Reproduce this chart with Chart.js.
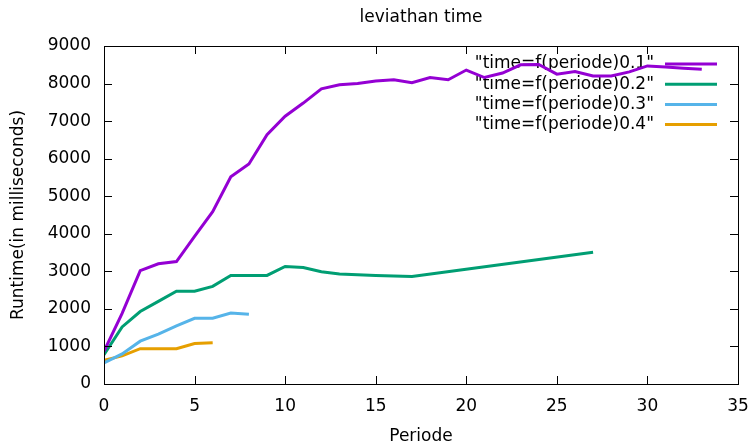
<!DOCTYPE html>
<html>
<head>
<meta charset="utf-8">
<script src="https://cdn.jsdelivr.net/npm/chart.js@4"></script>
<style>
  html, body { margin: 0; padding: 0; background: #fff; }
  #wrap { width: 753px; height: 447px; }
</style>
</head>
<body>
<div id="wrap"><canvas id="timeChart" width="753" height="447"></canvas></div>
<script>
const seriesLabels = ['"time=f(periode)0.1"', '"time=f(periode)0.2"', '"time=f(periode)0.3"', '"time=f(periode)0.4"'];
const seriesColors = ['#9400d3', '#009e73', '#56b4e9', '#e69f00'];

const periods1 = [0, 1, 2, 3, 4, 5, 6, 7, 8, 9, 10, 11, 12, 13, 14, 15, 16, 17, 18, 19, 20, 21, 22, 23, 24, 25, 26, 27, 28, 29, 30, 31, 32, 33];
const runtime1 = [870, 1880, 3020, 3200, 3260, 3930, 4590, 5520, 5860, 6640, 7130, 7480, 7860, 7970, 8000, 8070, 8100, 8020, 8160, 8100, 8360, 8160, 8280, 8500, 8510, 8250, 8320, 8200, 8200, 8310, 8470, 8440, 8410, 8380];

const periods2 = [0, 1, 2, 3, 4, 5, 6, 7, 8, 9, 10, 11, 12, 13, 14, 15, 16, 17, 27];
const runtime2 = [780, 1520, 1930, 2200, 2470, 2470, 2600, 2890, 2890, 2890, 3130, 3100, 2990, 2930, 2910, 2890, 2875, 2860, 3510];

const periods3 = [0, 1, 2, 3, 4, 5, 6, 7, 8];
const runtime3 = [560, 800, 1140, 1330, 1550, 1750, 1750, 1890, 1860];

const periods4 = [0, 1, 2, 3, 4, 5, 6];
const runtime4 = [630, 750, 940, 940, 940, 1080, 1100];

const FONT = 'DejaVu Sans';

function toPoints(xs, ys) {
    return xs.map((x, i) => ({ x: x, y: ys[i] }));
}

function makeDataset(i, xs, ys) {
    return {
        label: seriesLabels[i],
        data: toPoints(xs, ys),
        borderColor: seriesColors[i],
        backgroundColor: seriesColors[i],
        borderWidth: 3,
        pointRadius: 0,
        tension: 0,
        fill: false
    };
}

// gnuplot-like frame with inward ticks on all four sides
const framePlugin = {
    id: 'frame',
    afterDraw(chart) {
        const ctx = chart.ctx;
        const a = chart.chartArea;
        const xs = chart.scales.x, ys = chart.scales.y;
        const tl = 8;
        ctx.save();
        ctx.strokeStyle = '#000';
        ctx.lineWidth = 1;
        ctx.beginPath();
        xs.ticks.forEach(t => {
            const px = Math.round(xs.getPixelForValue(t.value)) + 0.5;
            ctx.moveTo(px, a.bottom); ctx.lineTo(px, a.bottom - tl);
            ctx.moveTo(px, a.top); ctx.lineTo(px, a.top + tl);
        });
        ys.ticks.forEach(t => {
            const py = Math.round(ys.getPixelForValue(t.value)) + 0.5;
            ctx.moveTo(a.left, py); ctx.lineTo(a.left + tl, py);
            ctx.moveTo(a.right, py); ctx.lineTo(a.right - tl, py);
        });
        ctx.stroke();
        ctx.strokeRect(Math.round(a.left) + 0.5, Math.round(a.top) + 0.5,
            Math.round(a.right - a.left), Math.round(a.bottom - a.top));
        ctx.restore();
    }
};

// legend inside the plot, text right-aligned, sample line on the right
const keyPlugin = {
    id: 'key',
    beforeDatasetsDraw(chart) {
        const ctx = chart.ctx;
        const textRight = 654, lineStart = 665, lineEnd = 717;
        const top = 64, step = 20.2;
        ctx.save();
        ctx.font = '17px "' + FONT + '"';
        ctx.textAlign = 'right';
        ctx.textBaseline = 'middle';
        chart.data.datasets.forEach((ds, i) => {
            const y = top + i * step;
            ctx.fillStyle = '#000';
            ctx.fillText(ds.label, textRight, y);
            ctx.strokeStyle = ds.borderColor;
            ctx.lineWidth = 3;
            ctx.beginPath();
            ctx.moveTo(lineStart, y);
            ctx.lineTo(lineEnd, y);
            ctx.stroke();
        });
        ctx.restore();
    }
};

new Chart(document.getElementById('timeChart'), {
    type: 'line',
    data: {
        datasets: [
            makeDataset(0, periods1, runtime1),
            makeDataset(1, periods2, runtime2),
            makeDataset(2, periods3, runtime3),
            makeDataset(3, periods4, runtime4)
        ]
    },
    options: {
        responsive: false,
        animation: false,
        layout: { padding: { left: 0, right: 15, top: 0, bottom: 0 } },
        plugins: {
            legend: { display: false },
            tooltip: { enabled: false },
            title: {
                display: true,
                fullSize: false,
                text: 'leviathan time',
                color: '#000',
                font: { family: FONT, size: 17, weight: 'normal' },
                padding: { top: 7, bottom: 18.6 }
            }
        },
        scales: {
            x: {
                type: 'linear',
                min: 0,
                max: 35,
                afterFit: function(scale) {
                    scale.height = 63;
                    scale.paddingLeft = 0;
                    scale.paddingRight = 0;
                },
                grid: { display: false, drawTicks: false },
                border: { display: false },
                ticks: {
                    stepSize: 5,
                    padding: 12,
                    color: '#000',
                    maxRotation: 0,
                    font: { family: FONT, size: 17 },
                    callback: function(value) { return String(value); }
                },
                title: {
                    display: true,
                    text: 'Periode',
                    color: '#000',
                    font: { family: FONT, size: 17 },
                    padding: { top: 6, bottom: 0 }
                }
            },
            y: {
                min: 0,
                max: 9000,
                afterFit: function(scale) {
                    scale.width = 104;
                    scale.paddingTop = 0;
                    scale.paddingBottom = 0;
                },
                grid: { display: false, drawTicks: false },
                border: { display: false },
                ticks: {
                    stepSize: 1000,
                    padding: 13,
                    color: '#000',
                    font: { family: FONT, size: 17 },
                    callback: function(value) { return String(value); }
                },
                title: {
                    display: true,
                    text: 'Runtime(in milliseconds)',
                    color: '#000',
                    font: { family: FONT, size: 17 },
                    padding: { top: 8, bottom: 0 }
                }
            }
        }
    },
    plugins: [keyPlugin, framePlugin]
});
</script>
</body>
</html>
